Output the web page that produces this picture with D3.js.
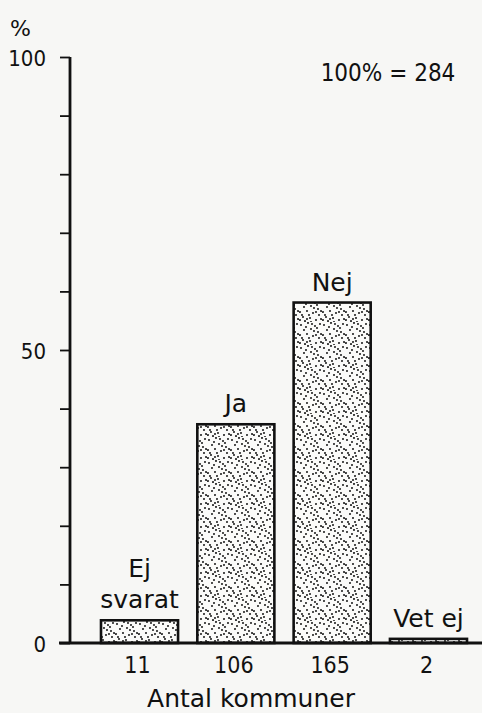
<!DOCTYPE html>
<html><head><meta charset="utf-8">
<script src="https://cdn.jsdelivr.net/npm/d3@7"></script>
<style>body{margin:0;background:#f7f7f5}svg{display:block}text{font-family:"DejaVu Sans",sans-serif;fill:#111}</style>
</head><body>
<script>
const categories = ["Ej svarat", "Ja", "Nej", "Vet ej"];
const labelLines = [["Ej", "svarat"], ["Ja"], ["Nej"], ["Vet ej"]];
const counts = [11, 106, 165, 2];
const total = 284;
const percents = counts.map(c => c / total * 100);
const yTickValues = [0,10,20,30,40,50,60,70,80,90,100];
const yTickLabels = {0:"0", 50:"50", 100:"100"};

const W = 482, H = 713;
const svg = d3.select("body").append("svg").attr("width", W).attr("height", H);

// stipple pattern
const defs = svg.append("defs");
const pat = defs.append("pattern").attr("id","dots").attr("patternUnits","userSpaceOnUse")
  .attr("width",23).attr("height",23);
pat.append("rect").attr("width",23).attr("height",23).attr("fill","#fbfbf9");
const dotPts = [[2,3],[9,1],[16,4],[21,2],[5,8],[12,7],[19,10],[1,13],[8,12],[14,14],[20,16],[4,18],[11,19],[17,21],[6,22],[22,20],[10,16],[15,9],[3,16],[18,6],[7,5],[13,2],[22,12],[1,21],[12,23],[17,13],[8,20]];
dotPts.forEach(p => pat.append("circle").attr("cx",p[0]).attr("cy",p[1]).attr("r",1.05).attr("fill","#222"));

const y = d3.scaleLinear().domain([0,100]).range([643,57]);
const x = d3.scaleBand().domain(categories).range([101,467]).paddingInner(0.2).paddingOuter(0);

// bars
svg.selectAll("rect.bar").data(categories).join("rect").attr("class","bar")
  .attr("x", d => x(d)).attr("width", x.bandwidth())
  .attr("y", (d,i) => y(percents[i])).attr("height", (d,i) => y(0) - y(percents[i]))
  .attr("fill","url(#dots)").attr("stroke","#111").attr("stroke-width",2.6);

// y axis
const yAxis = d3.axisLeft(y).tickValues(yTickValues).tickSize(10).tickPadding(14)
  .tickFormat(d => yTickLabels[d] || "");
const ga = svg.append("g").attr("transform","translate(70,0)").call(yAxis);
ga.select(".domain").attr("stroke","#111").attr("stroke-width",2.8).attr("d","M0,57V643");
ga.selectAll(".tick line").attr("stroke","#111").attr("stroke-width",1.8);
ga.selectAll(".tick text").style("font-size","22px").attr("fill","#111")
  .style("font-family","DejaVu Sans Condensed, DejaVu Sans, sans-serif").attr("dy","0.4em");

// baseline
svg.append("line").attr("x1",59).attr("x2",482).attr("y1",y(0)).attr("y2",y(0))
  .attr("stroke","#111").attr("stroke-width",3);

// % label
svg.append("text").attr("x",10).attr("y",36).style("font-size","22px").text("%");

// category labels above bars
categories.forEach((c,i) => {
  const lines = labelLines[i];
  const cx = x(c) + x.bandwidth()/2;
  const top = y(percents[i]);
  lines.forEach((ln,j) => {
    svg.append("text").attr("x", cx).attr("y", top - 12 - (lines.length-1-j)*31)
      .attr("text-anchor","middle").style("font-size","25px").text(ln);
  });
  svg.append("text").attr("x", cx - 2).attr("y", 673).attr("text-anchor","middle")
    .style("font-family","DejaVu Sans Condensed, DejaVu Sans, sans-serif")
    .style("font-size","23px").text(counts[i]);
});

svg.append("text").attr("x",251).attr("y",707).attr("text-anchor","middle")
  .style("font-size","25px").text("Antal kommuner");

svg.append("text").attr("x",388).attr("y",81).attr("text-anchor","middle")
  .style("font-family","DejaVu Sans Condensed, DejaVu Sans, sans-serif")
  .style("font-size","24px").text("100% = " + total);
</script>
</body></html>
